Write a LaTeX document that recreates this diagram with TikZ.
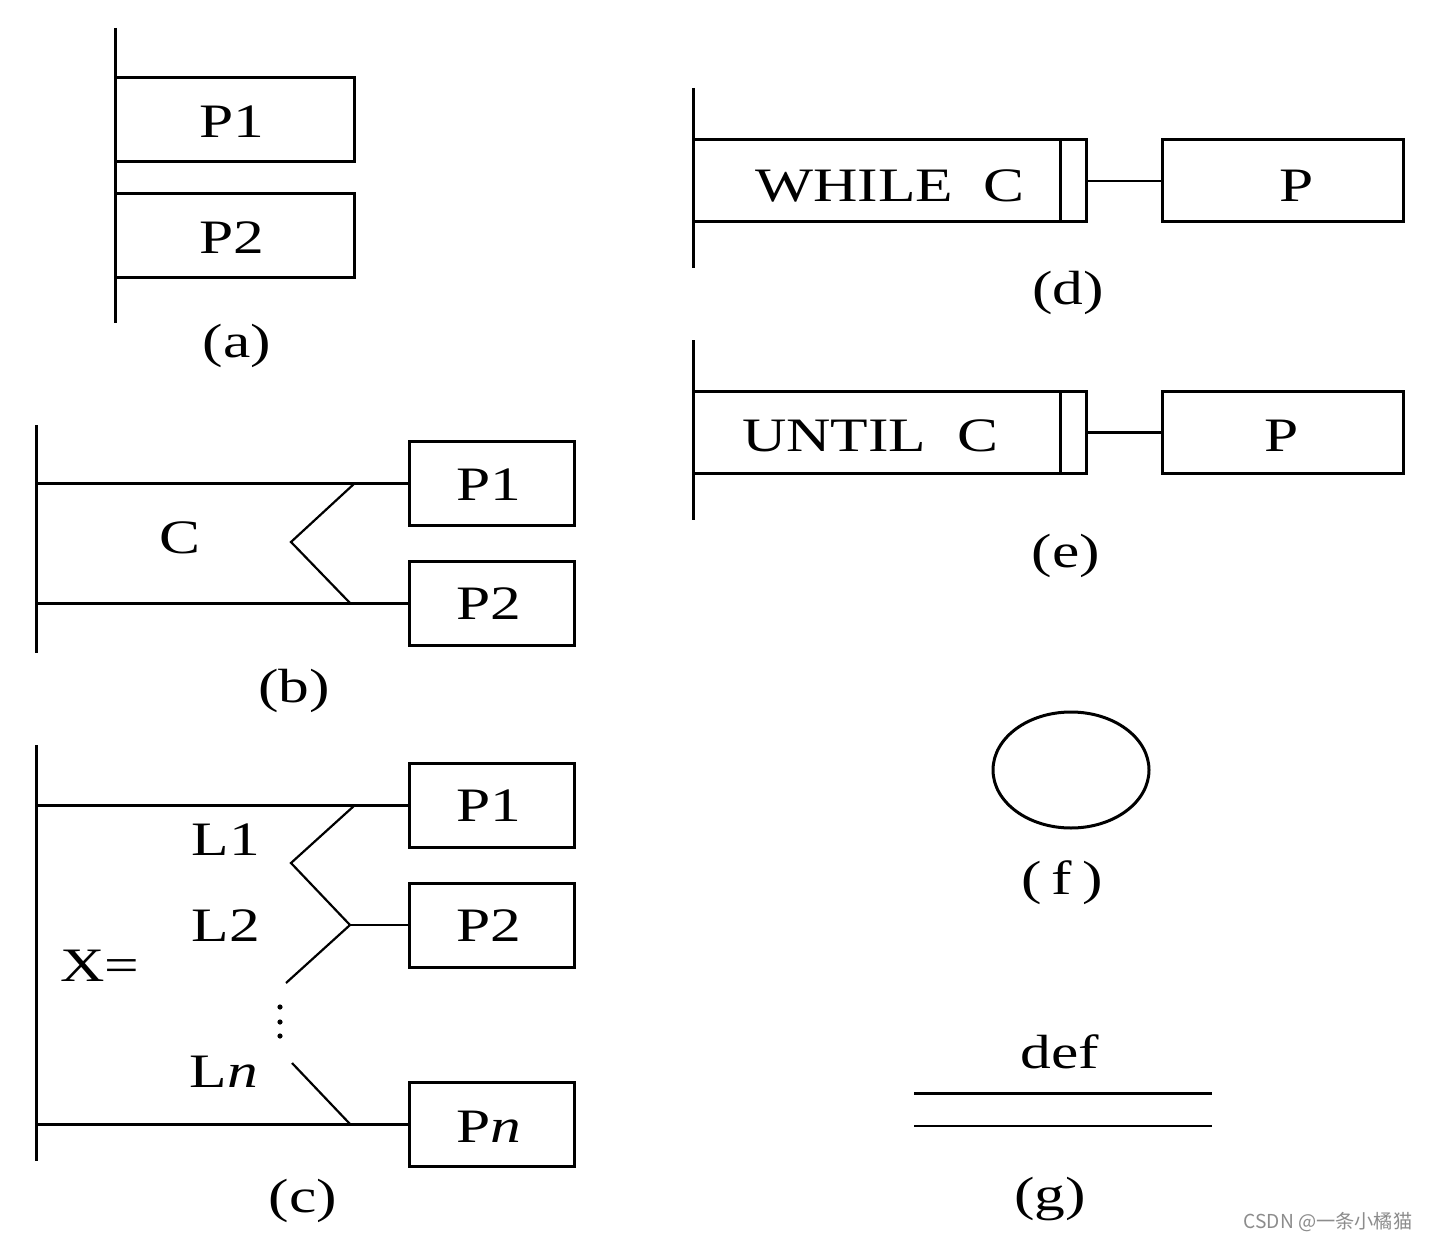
\documentclass[tikz,border=0pt]{standalone}
\usepackage{fontspec}
\setmainfont{Liberation Serif}
\newfontfamily\cjkfont{Noto Sans CJK SC}
\newcommand{\wtxt}[1]{\scalebox{1.28}[1]{#1}}
\begin{document}
\begin{tikzpicture}[x=0.5pt,y=-0.5pt,
  thickln/.style={line width=1.5pt},
  thinln/.style={line width=1.1pt},
  pbox/.style={draw, line width=1.5pt, inner sep=0pt, minimum width=#1, minimum height=42pt},
  lbl/.style={inner sep=0pt, font=\fontsize{24}{28}\selectfont},
  dotm/.style={fill=black, circle, inner sep=0pt, minimum size=2.6pt}]
\useasboundingbox (0,0) rectangle (1429,1241);
\fill[white] (0,0) rectangle (1429,1241);

% ---------- (a)
\draw[thickln] (115,28) coordinate (a-top) -- (115,323) coordinate (a-bot);
\node[pbox=119.5pt] (a1) at (234.5,120) {};
\node[pbox=119.5pt] (a2) at (234.5,236) {};
\node[lbl] (a1t) at (232,122) {\wtxt{P1}};
\node[lbl] (a2t) at (232,238) {\wtxt{P2}};
\node[lbl] (acap) at (237,346) {\wtxt{(a)}};

% ---------- (b)
\draw[thickln] (36,425) coordinate (b-top) -- (36,653) coordinate (b-bot);
\node[pbox=82.5pt] (b1) at (491.5,483) {};
\node[pbox=82.5pt] (b2) at (491.5,603) {};
\node[lbl] (b1t) at (489,485) {\wtxt{P1}};
\node[lbl] (b2t) at (489,604) {\wtxt{P2}};
\coordinate (b-l1) at (36,483);
\coordinate (b-l2) at (36,603);
\draw[thickln] (b-l1) -- (b1.west);
\draw[thickln] (b-l2) -- (b2.west);
\draw[thinln] (355,483) -- (291,542) -- (350,603);
\node[lbl] (bc) at (180,538) {\wtxt{C}};
\node[lbl] (bcap) at (294,691) {\wtxt{(b)}};

% ---------- (c)
\draw[thickln] (36,745) coordinate (c-top) -- (36,1161) coordinate (c-bot);
\node[pbox=82.5pt] (c1) at (491.5,805) {};
\node[pbox=82.5pt] (c2) at (491.5,925) {};
\node[pbox=82.5pt] (cn) at (491.5,1124) {};
\node[lbl] (c1t) at (489,806) {\wtxt{P1}};
\node[lbl] (c2t) at (489,926) {\wtxt{P2}};
\node[lbl] (cnt) at (489,1127) {\wtxt{P\textit{n}}};
\coordinate (c-l1) at (36,805);
\coordinate (c-ln) at (36,1124);
\draw[thickln] (c-l1) -- (c1.west);
\draw[thickln] (c-ln) -- (cn.west);
\draw[thinln] (355,805) -- (291,863) -- (350,925) -- (286,983);
\draw[thinln] (350,925) -- (c2.west);
\draw[thinln] (292,1063) -- (350,1124);
\node[dotm] (cd1) at (280,1007) {};
\node[dotm] (cd2) at (280,1022) {};
\node[dotm] (cd3) at (280,1036) {};
\node[lbl] (cl1) at (226,840) {\wtxt{L1}};
\node[lbl] (cl2) at (226,926) {\wtxt{L2}};
\node[lbl] (cln) at (224,1072) {\wtxt{L\textit{n}}};
\node[lbl] (cx) at (100,966) {\wtxt{X=}};
\node[lbl] (ccap) at (303,1201) {\wtxt{(c)}};

% ---------- (d)
\draw[thickln] (693,88) coordinate (d-top) -- (693,268) coordinate (d-bot);
\node[pbox=183.5pt, minimum height=41pt] (dw) at (876.5,181) {};
\node[pbox=13pt, minimum height=41pt] (dn) at (1073,181) {};
\node[pbox=120.5pt, minimum height=41pt] (dp) at (1282.5,181) {};
\draw[thinln] (dn.east) -- (dp.west);
\node[lbl] (dwt) at (890,186) {\wtxt{WHILE\ \ C}};
\node[lbl] (dpt) at (1297,186) {\wtxt{P}};
\node[lbl] (dcap) at (1068,293) {\wtxt{(d)}};

% ---------- (e)
\draw[thickln] (693,340) coordinate (e-top) -- (693,520) coordinate (e-bot);
\node[pbox=183.5pt, minimum height=41pt] (ew) at (876.5,432) {};
\node[pbox=13pt, minimum height=41pt] (en) at (1073,432) {};
\node[pbox=120.5pt, minimum height=41pt] (ep) at (1282.5,432) {};
\draw[thickln] (en.east) -- (ep.west);
\node[lbl] (ewt) at (870,436) {\wtxt{UNTIL\ \ C}};
\node[lbl] (ept) at (1282,436) {\wtxt{P}};
\node[lbl] (ecap) at (1066,556) {\wtxt{(e)}};

% ---------- (f)
\draw[thickln] (1071,770) ellipse [x radius=39pt, y radius=29pt];
\coordinate (fcenter) at (1071,770);
\node[lbl] (fcap) at (1062,883) {\wtxt{(\,f\,)}};

% ---------- (g)
\node[lbl] (gdef) at (1060,1052) {\wtxt{def}};
\draw[thickln] (914,1093) coordinate (g1a) -- (1212,1093) coordinate (g1b);
\draw[thinln] (914,1126) coordinate (g2a) -- (1212,1126) coordinate (g2b);
\node[lbl] (gcap) at (1050,1199) {\wtxt{(g)}};

% ---------- watermark
\node[inner sep=0pt, text=black!45, font=\cjkfont\fontsize{9.6}{10}\selectfont] (wm) at (1328,1222) {CSDN @一条小橘猫};
\end{tikzpicture}
\end{document}
